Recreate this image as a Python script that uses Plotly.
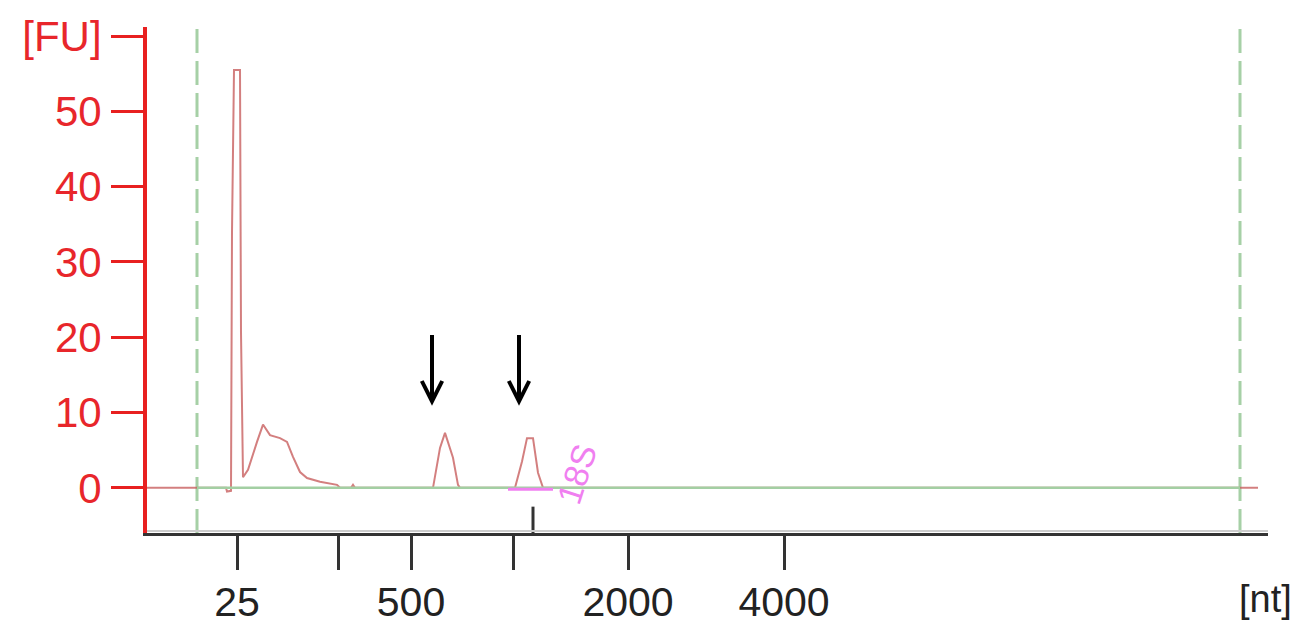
import plotly.graph_objects as go

# Electropherogram trace: migration time [s] vs fluorescence [FU]
time_s = [17.0, 20.95, 21.0, 21.2, 21.25, 21.35, 21.65, 21.7, 21.8, 22.05, 22.5, 22.8,
          23.15, 23.65, 24.0, 24.3, 24.65, 25.0, 25.65, 26.5, 26.65, 27.2, 27.3, 27.4,
          31.3, 31.65, 31.9, 32.0, 32.3, 32.55, 32.65, 35.4, 35.75, 36.0, 36.3, 36.55,
          36.8, 72.55]
fu = [0, 0, -0.5, -0.4, 34, 55.5, 55.5, 20.6, 1.4, 2.4, 6.1, 8.4,
      7.0, 6.6, 6.1, 4.1, 2.1, 1.3, 0.8, 0.4, 0, 0, 0.4, 0,
      0, 5.3, 7.3, 6.4, 4.0, 0.4, 0, 0, 3.5, 6.6, 6.6, 2.0,
      0, 0]

# 18S region highlight
s18_time = [35.05, 37.3]
s18_fu = [-0.2, -0.2]

# Ladder (x-axis) ticks
ladder_time = [21.5, 26.55, 30.2, 35.3, 41.05, 48.85]
ladder_text = ["25", "", "500", "", "2000", "4000"]

# y-axis ticks
fu_ticks = [0, 10, 20, 30, 40, 50, 60]
fu_text = ["0", "10", "20", "30", "40", "50", "[FU]"]

# Markers / window
window_start, window_end = 19.5, 71.65
baseline_fu = [0, 0]
marker_18s = 36.3
arrow_times = [31.25, 35.6]

fig = go.Figure()
fig.add_trace(go.Scatter(x=time_s, y=fu, mode="lines",
                         line=dict(color="rgba(200,95,95,0.8)", width=2),
                         hoverinfo="skip", showlegend=False))
# baseline (green) between window markers
fig.add_trace(go.Scatter(x=[window_start, window_end], y=baseline_fu, mode="lines",
                         line=dict(color="#a3cfa3", width=2.5),
                         hoverinfo="skip", showlegend=False))
fig.add_trace(go.Scatter(x=s18_time, y=s18_fu, mode="lines",
                         line=dict(color="#f07ff0", width=3),
                         hoverinfo="skip", showlegend=False))

for xv in [window_start, window_end]:
    fig.add_shape(type="line", x0=xv, x1=xv, y0=0, y1=1, yref="paper",
                  line=dict(color="#a6d0a6", width=3, dash="24px,8px"), layer="below")
# 18S marker tick
fig.add_shape(type="line", x0=marker_18s, x1=marker_18s, y0=-2.5, y1=-6.0,
              line=dict(color="#333333", width=3))
# gray shadow above x axis
fig.add_shape(type="line", x0=0, x1=1, xref="paper", y0=-5.72, y1=-5.72,
              line=dict(color="#cccccc", width=2))

for t in arrow_times:
    fig.add_annotation(x=t, y=10.9, ax=t, ay=20.5, axref="x", ayref="y",
                       showarrow=True, arrowhead=5, arrowwidth=4, arrowsize=1,
                       arrowcolor="#000000", text="")

fig.add_annotation(x=38.5, y=1.8, text="18S", showarrow=False, textangle=-72,
                   font=dict(color="#f07ff0", size=34, family="Liberation Sans"))
fig.add_annotation(x=1.0, y=0, xref="paper", yref="paper", xanchor="center",
                   yanchor="top", xshift=-3, yshift=-43, text="[nt]", showarrow=False,
                   font=dict(color="#222222", size=38, family="Liberation Sans"))

fig.update_layout(
    width=1305, height=628,
    margin=dict(l=147, r=37, t=27, b=95),
    paper_bgcolor="white", plot_bgcolor="white",
    showlegend=False,
    xaxis=dict(range=[17.0, 73.05], tickvals=ladder_time, ticktext=ladder_text,
               ticks="outside", ticklen=34, tickwidth=3, tickcolor="#333333",
               showline=True, linecolor="#333333", linewidth=3,
               showgrid=False, zeroline=False, automargin=False,
               tickfont=dict(size=41, color="#222222", family="Liberation Sans"),
               ticklabelstandoff=-3),
    yaxis=dict(range=[-6.0, 61.2], tickvals=fu_ticks, ticktext=fu_text,
               ticks="outside", ticklen=32, tickwidth=3, tickcolor="#e82020",
               showline=True, linecolor="#e82020", linewidth=4,
               showgrid=False, zeroline=False, automargin=False,
               tickfont=dict(size=42, color="#e8262b", family="Liberation Sans"),
               ticklabelstandoff=1),
)

fig.write_html("out.html")
